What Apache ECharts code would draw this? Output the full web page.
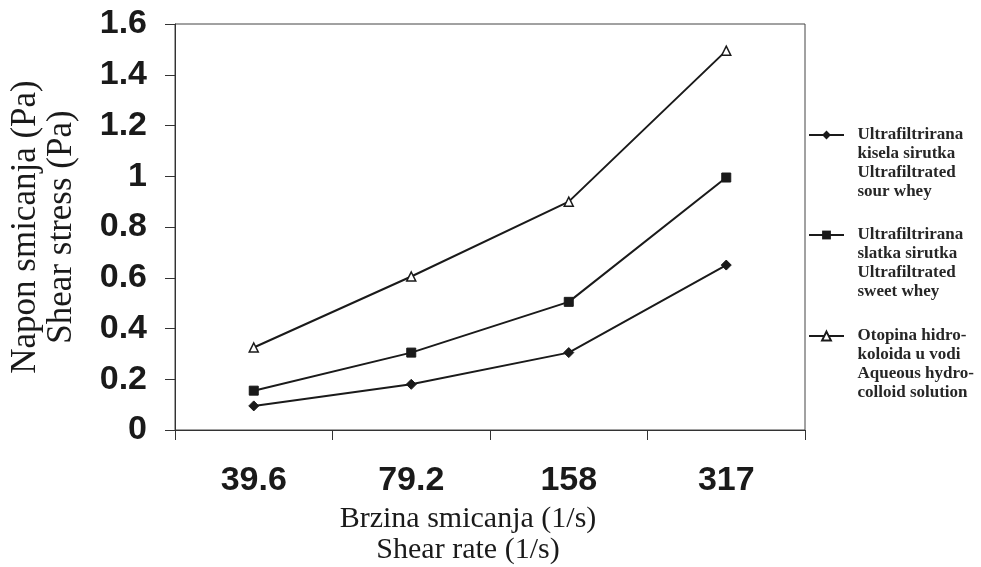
<!DOCTYPE html>
<html><head><meta charset="utf-8">
<script src="https://cdn.jsdelivr.net/npm/echarts@6/dist/echarts.min.js"></script>
<style>html,body{margin:0;padding:0;background:#fff}#c{width:981px;height:567px}</style>
</head><body><div id="c"></div>
<script>
const categories = ['39.6', '79.2', '158', '317'];
const yTicks = [0, 0.2, 0.4, 0.6, 0.8, 1, 1.2, 1.4, 1.6];
const sourWhey = [0.095, 0.18, 0.305, 0.65];
const sweetWhey = [0.155, 0.305, 0.505, 0.995];
const hydrocolloid = [0.325, 0.605, 0.9, 1.495];
const seriesNames = [
  'Ultrafiltrirana\nkisela sirutka\nUltrafiltrated\nsour whey',
  'Ultrafiltrirana\nslatka sirutka\nUltrafiltrated\nsweet whey',
  'Otopina hidro-\nkoloida u vodi\nAqueous hydro-\ncolloid solution'
];
const legendIconCenters = [135, 235, 336];

const chart = echarts.init(document.getElementById('c'));
const ink = '#1a1a1a';
const lineStyle = { color: ink, width: 2 };
const LH = 19;
// blank lines before the text keep the legend icon level with the first text line
const legendFormatter = name => '\n\n\n' + name.split('\n').map(s => '  ' + s).join('\n');
const legends = seriesNames.map((n, i) => ({
  orient: 'vertical', left: 808, top: legendIconCenters[i] - (7 * LH) / 2, padding: 0,
  itemWidth: 35, itemHeight: 11,
  formatter: legendFormatter,
  textStyle: { fontFamily: 'Liberation Serif', fontWeight: 'bold', fontSize: 17, lineHeight: LH, color: '#262626' },
  data: [n]
}));

chart.setOption({
  animation: false,
  backgroundColor: '#fff',
  grid: { left: 175, right: 176, top: 24, bottom: 137, outerBoundsMode: 'none',
    show: true, borderColor: '#444', borderWidth: 1 },
  legend: legends,
  xAxis: {
    type: 'category', data: categories, boundaryGap: true,
    axisLine: { lineStyle: { color: '#333', width: 1 } },
    axisTick: { show: true, length: 10, lineStyle: { color: '#333' } },
    axisLabel: { fontFamily: 'Liberation Sans', fontWeight: 'bold', fontSize: 34, color: ink, margin: 34 },
    name: 'Brzina smicanja (1/s)\nShear rate (1/s)', nameLocation: 'middle', nameGap: 74,
    nameTextStyle: { fontFamily: 'Liberation Serif', fontSize: 30, lineHeight: 31, color: ink, padding: [0, 44, 0, 0] }
  },
  yAxis: {
    type: 'value', min: 0, max: 1.6, interval: 0.2,
    splitLine: { show: false },
    axisLine: { show: true, lineStyle: { color: '#333', width: 1 } },
    axisTick: { show: true, length: 10, lineStyle: { color: '#333' } },
    axisLabel: { fontFamily: 'Liberation Sans', fontWeight: 'bold', fontSize: 34, color: ink, margin: 28,
      formatter: v => { const t = yTicks.find(x => Math.abs(x - v) < 1e-6); return t === undefined ? '' : String(t); } },
    name: 'Napon smicanja (Pa)\nShear stress (Pa)', nameLocation: 'middle', nameRotate: 90, nameGap: 95,
    nameTextStyle: { fontFamily: 'Liberation Serif', fontSize: 35, lineHeight: 36, color: ink }
  },
  series: [
    { name: seriesNames[0], type: 'line', data: sourWhey, symbol: 'diamond', symbolSize: 10,
      lineStyle, itemStyle: { color: ink, borderColor: ink } },
    { name: seriesNames[1], type: 'line', data: sweetWhey, symbol: 'rect', symbolSize: 9,
      lineStyle, itemStyle: { color: ink, borderColor: ink } },
    { name: seriesNames[2], type: 'line', data: hydrocolloid, symbol: 'triangle', symbolSize: 9,
      lineStyle, itemStyle: { color: '#fff', borderColor: ink, borderWidth: 1.5 } }
  ]
});
</script></body></html>
